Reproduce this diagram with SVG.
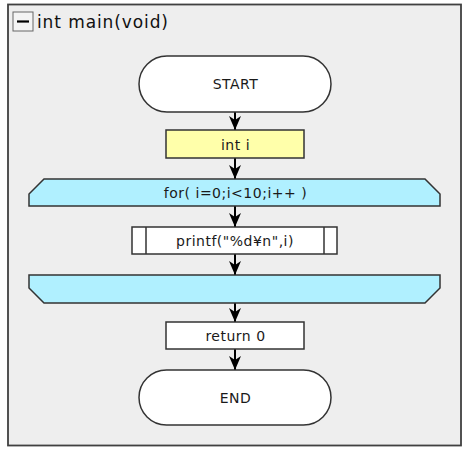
<svg xmlns="http://www.w3.org/2000/svg" width="470" height="455" viewBox="0 0 470 455">
<style>
.t{font-family:"DejaVu Sans",Verdana,sans-serif;font-size:14px;letter-spacing:0.5px;fill:#1a1a1a;text-anchor:middle}
.sh{stroke:#333;stroke-width:1.5}
.c{stroke:#000;stroke-width:2;fill:none}
</style>
<defs>
<marker id="ah" viewBox="0 0 15 12" refX="15" refY="6" markerWidth="15" markerHeight="12" markerUnits="userSpaceOnUse" orient="auto">
<path d="M15 6 L1 0 L5 6 L1 12 Z" fill="#000"/>
</marker>
</defs>
<rect width="470" height="455" fill="#fff"/>
<g id="frame">
<rect x="8" y="4.5" width="453" height="441" fill="#eeeeee" stroke="#404040" stroke-width="1.8"/>
<rect x="13" y="12" width="20" height="19" fill="#f4f4f4" stroke="#666" stroke-width="1"/>
<line x1="17" y1="21.5" x2="29" y2="21.5" stroke="#000" stroke-width="2.2"/>
<text x="37" y="28" style="font-family:'DejaVu Sans',Verdana,sans-serif;font-size:17px;letter-spacing:0.9px;fill:#111">int main(void)</text>
</g>
<g id="connectors">
<line class="c" x1="235" y1="112" x2="235" y2="130" marker-end="url(#ah)"/>
<line class="c" x1="235" y1="158" x2="235" y2="179" marker-end="url(#ah)"/>
<line class="c" x1="235" y1="206" x2="235" y2="227" marker-end="url(#ah)"/>
<line class="c" x1="235" y1="254" x2="235" y2="275" marker-end="url(#ah)"/>
<line class="c" x1="235" y1="303" x2="235" y2="322" marker-end="url(#ah)"/>
<line class="c" x1="235" y1="349" x2="235" y2="370" marker-end="url(#ah)"/>
</g>
<g id="start">
<rect class="sh" x="139" y="56" width="192" height="56" rx="28" fill="#fff"/>
<text class="t" x="235.5" y="89">START</text>
</g>
<g id="decl">
<rect class="sh" x="166" y="130" width="138" height="28" fill="#ffffaa"/>
<text class="t" x="235.5" y="150">int i</text>
</g>
<g id="loop-start">
<path class="sh" d="M44 179 H425 L440 194 V206 H29 V194 Z" fill="#b0f0ff"/>
<text class="t" x="235.5" y="198">for( i=0;i&lt;10;i++ )</text>
</g>
<g id="printf">
<rect class="sh" x="132" y="227" width="205" height="27" fill="#fff"/>
<line class="sh" x1="146" y1="227" x2="146" y2="254"/>
<line class="sh" x1="324" y1="227" x2="324" y2="254"/>
<text class="t" x="235" y="246">printf("%d¥n",i)</text>
</g>
<g id="loop-end">
<path class="sh" d="M29 275 H440 V288 L425 303 H44 L29 288 Z" fill="#b0f0ff"/>
</g>
<g id="return">
<rect class="sh" x="166" y="322" width="138" height="27" fill="#fff"/>
<text class="t" x="235.5" y="341">return 0</text>
</g>
<g id="end">
<rect class="sh" x="139" y="370" width="192" height="55" rx="27.5" fill="#fff"/>
<text class="t" x="235.5" y="403">END</text>
</g>
</svg>
